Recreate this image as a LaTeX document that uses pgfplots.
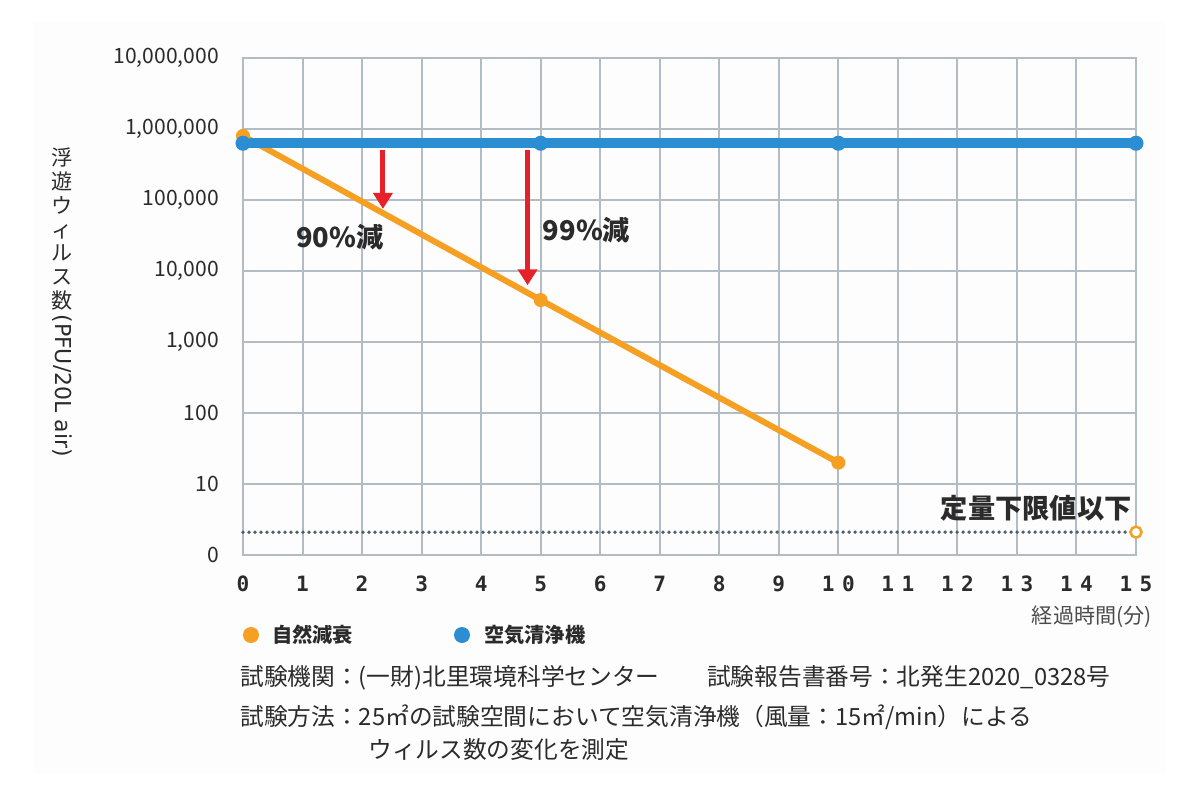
\documentclass[border=0pt]{standalone}
\usepackage{pgfplots}
\pgfplotsset{compat=1.18}
\usepackage{fontspec}
\setmainfont{Noto Sans CJK JP}
\newfontfamily\monob{DejaVu Sans Mono}
\newfontfamily\dejavu{DejaVu Sans}
\usetikzlibrary{arrows.meta}
\definecolor{orangeL}{HTML}{F5A023}
\definecolor{blueL}{HTML}{2B8ED3}
\definecolor{gridc}{HTML}{B2BCC5}
\definecolor{redA}{HTML}{E62129}
\definecolor{txt}{HTML}{2B2B2B}
\definecolor{bgc}{HTML}{FDFDFD}
\definecolor{dotc}{HTML}{4F606B}
\newcommand\tw[2]{#1\hspace{0.35em}#2}
\begin{document}
\begin{tikzpicture}
\path[use as bounding box] (0,0) rectangle (240mm,-159.6mm);
\fill[bgc] (6.6mm,-4.4mm) rectangle (233mm,-154.6mm);
\begin{axis}[
  at={(48.6mm,-111mm)}, anchor=south west,
  scale only axis, width=178.6mm, height=99.4mm,
  xmin=0, xmax=15, ymode=log, ymin=1, ymax=1e7,
  xtick={0,...,15},
  xticklabels={0,1,2,3,4,5,6,7,8,9,\tw10,\tw11,\tw12,\tw13,\tw14,\tw15},
  ytick={1,10,100,1000,10000,100000,1000000,10000000},
  yticklabels={0,10,100,{1,000},{10,000},{100,000},{1,000,000},{10,000,000}},
  yminorticks=false,
  grid=major, major grid style={gridc, line width=0.4mm},
  axis line style={gridc, line width=0.4mm},
  major tick length=0pt,
  xticklabel style={font=\fontsize{12}{12}\selectfont\monob\bfseries, text=txt, yshift=-3mm},
  yticklabel style={font=\fontsize{12}{12}\selectfont, text=txt, xshift=-3.6mm},
  clip=false,
]
\addplot[dotc, line width=0.75mm, line cap=round, dash pattern=on 0pt off 1.2mm] coordinates {(0,2.1) (15,2.1)};
\addplot[orangeL, line width=1.2mm, mark=*, mark size=1.3mm, mark options={line width=0.2mm}] coordinates {(0,8e5) (5,3900) (10,20)};
\addplot[blueL, line width=2mm, mark=*, mark size=1.4mm, mark options={line width=0.2mm}] coordinates {(0,6.3e5) (5,6.3e5) (10,6.3e5) (15,6.3e5)};
\addplot[only marks, mark=*, mark size=1.1mm, mark options={draw=orangeL, fill=white, line width=0.5mm}] coordinates {(15,2.1)};
\draw[redA, line width=1mm, -{Triangle[length=3.2mm,width=3.8mm]}] (axis cs:2.35,5e5) -- (axis cs:2.35,7.5e4);
\draw[redA, line width=1mm, -{Triangle[length=3.2mm,width=3.8mm]}] (axis cs:4.78,5e5) -- (axis cs:4.78,6300);
\node[font=\fontsize{15.5}{16}\selectfont\bfseries, text=txt] at (axis cs:1.63,3e4) {90\%減};
\node[font=\fontsize{15.5}{16}\selectfont\bfseries, text=txt] at (axis cs:5.77,3.8e4) {99\%減};
\node[anchor=east, inner sep=0, font=\fontsize{15.5}{16}\selectfont\bfseries, text=txt] at (axis cs:14.93,4.6) {定量下限値以下};
\end{axis}
\begin{scope}[x=0.2mm,y=-0.2mm]
\node[anchor=east, inner sep=0, font=\fontsize{12}{12}\selectfont, text=txt!85] at (1152,617) {経過時間(分)};
\fill[orangeL] (251,635) circle (8);
\node[anchor=west, inner sep=0, font=\fontsize{11.5}{12}\selectfont\bfseries, text=txt] at (272,635) {自然減衰};
\fill[blueL] (462,635) circle (8);
\node[anchor=west, inner sep=0, font=\fontsize{11.5}{12}\selectfont\bfseries, text=txt] at (484,635) {空気清浄機};
\node[anchor=west, inner sep=0, font=\fontsize{13.5}{14}\selectfont, text=txt] at (240,678) {試験機関：(一財)北里環境科学センター　　試験報告書番号：北発生2020\_0328号};
\node[anchor=west, inner sep=0, font=\fontsize{13.5}{14}\selectfont, text=txt] at (240,717) {試験方法：25㎡の試験空間において空気清浄機（風量：15㎡/min）による};
\node[anchor=west, inner sep=0, font=\fontsize{13.5}{14}\selectfont, text=txt] at (368,750) {ウィルス数の変化を測定};
\node[anchor=north, align=center, inner sep=0, font=\fontsize{12}{13.5}\selectfont, text=txt] at (62,148) {浮\\遊\\ウ\\ィ\\ル\\ス\\数\\[-3.5mm]\rotatebox{-90}{\dejavu\fontsize{12.5}{13}\selectfont (PFU/20L air)}};
\end{scope}
\end{tikzpicture}
\end{document}
